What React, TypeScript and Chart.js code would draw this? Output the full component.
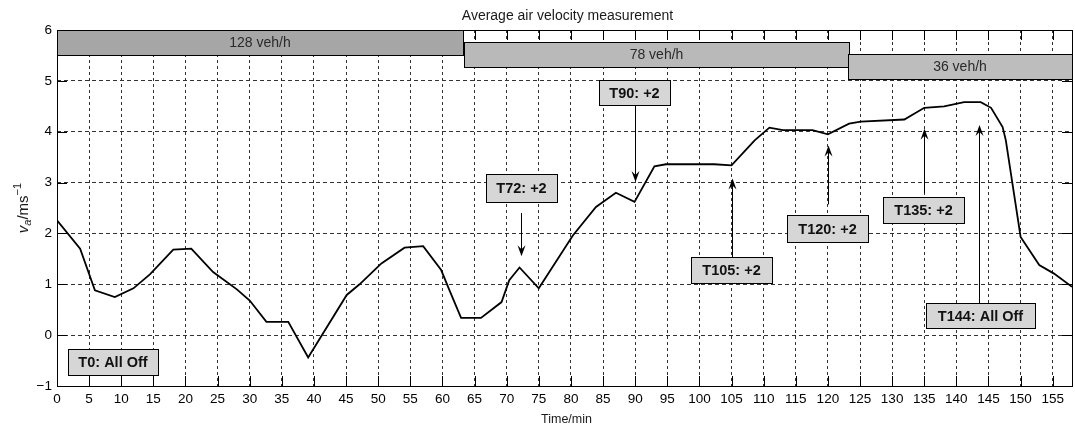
import React, { useEffect, useRef } from "react";
import { Chart, registerables } from "chart.js";

Chart.register(...registerables);

// ---- data ----
const timeMin = [
  0, 3.6, 5.9, 9.0, 11.9, 14.5, 18.1, 20.9, 24.3, 28.0, 30.0, 32.6, 36.0, 39.1,
  45.1, 47.1, 50.5, 54.1, 57.0, 59.8, 61.1, 62.9, 66.0, 69.2, 70.4, 72.0, 75.0,
  80.3, 83.9, 87.0, 89.9, 93.0, 94.8, 102.3, 105.0, 108.6, 110.9, 113.0, 117.6,
  120.0, 123.3, 125.1, 131.9, 135.0, 138.1, 141.2, 143.8, 145.4, 147.2, 147.7,
  150.0, 152.9, 155.2, 158.0,
];
const velocity = [
  2.26, 1.7, 0.88, 0.75, 0.92, 1.2, 1.68, 1.7, 1.24, 0.9, 0.68, 0.26, 0.26, -0.44,
  0.79, 1.0, 1.41, 1.72, 1.75, 1.28, 0.88, 0.34, 0.34, 0.65, 1.08, 1.33, 0.92,
  1.96, 2.52, 2.8, 2.62, 3.32, 3.36, 3.36, 3.34, 3.83, 4.08, 4.03, 4.03,
  3.95, 4.16, 4.2, 4.24, 4.47, 4.5, 4.58, 4.58, 4.47, 4.09, 3.83,
  1.93, 1.38, 1.21, 0.95,
];

const xMin = 0;
const xMax = 158;
const xStep = 5;
const xTickValues = [0, 5, 10, 15, 20, 25, 30, 35, 40, 45, 50, 55, 60, 65, 70, 75, 80, 85, 90, 95, 100, 105, 110, 115, 120, 125, 130, 135, 140, 145, 150, 155];
const yMin = -1;
const yMax = 6;
const yStep = 1;

const chartTitle = "Average air velocity measurement";
const xTitle = "Time/min";

// traffic flow header bars
const flowLabels = ["128 veh/h", "78 veh/h", "36 veh/h"];
const flowStart = [0, 63.3, 123.2];
const flowEnd = [63.2, 123.3, 158];
const flowTop = [6, 5.76, 5.535];
const flowBottom = [5.515, 5.28, 5.044];
const flowFill = ["#a6a6a6", "#b9b9b9", "#bdbdbd"];

// annotation boxes
const noteLabels = ["T0: All Off", "T72: +2", "T90: +2", "T105: +2", "T120: +2", "T135: +2", "T144: All Off"];
const noteLeft = [1.65, 66.8, 84.3, 98.7, 113.6, 128.6, 135.3];
const noteRight = [15.7, 77.9, 95.4, 111.3, 126.3, 141.2, 152.2];
const noteTop = [-0.28, 3.16, 5.02, 1.53, 2.36, 2.71, 0.63];
const noteBottom = [-0.79, 2.62, 4.52, 1.02, 1.83, 2.21, 0.14];
const arrowX = [null, 72.2, 89.9, 105, 120, 135, 143.6];
const arrowFrom = [null, 2.4, 4.52, 1.53, 2.57, 2.79, 0.63];
const arrowTo = [null, 1.55, 3.01, 3.08, 3.73, 4.06, 4.13];

const FONT = "'Liberation Sans', Arial, Helvetica, sans-serif";

const crisp = (v: number) => Math.round(v) + 0.5;

const overlay = {
  id: "overlay",
  beforeDatasetsDraw(chart: any) {
    const { ctx, chartArea: a, scales } = chart;
    const x = scales.x;
    const y = scales.y;
    ctx.save();
    // inward tick marks on all four sides
    ctx.strokeStyle = "#000";
    ctx.lineWidth = 1;
    ctx.setLineDash([]);
    const tl = 10;
    ctx.beginPath();
    for (const v of xTickValues) {
      const px = crisp(x.getPixelForValue(v));
      ctx.moveTo(px, a.bottom);
      ctx.lineTo(px, a.bottom - tl);
      ctx.moveTo(px, a.top);
      ctx.lineTo(px, a.top + tl);
    }
    for (let v = yMin; v <= yMax; v += yStep) {
      const py = crisp(y.getPixelForValue(v));
      ctx.moveTo(a.left, py);
      ctx.lineTo(a.left + tl, py);
      ctx.moveTo(a.right, py);
      ctx.lineTo(a.right - tl, py);
    }
    ctx.stroke();

    // header bars
    for (let i = 0; i < flowLabels.length; i++) {
      const l = Math.round(x.getPixelForValue(flowStart[i]));
      const r = Math.round(x.getPixelForValue(flowEnd[i]));
      const t = Math.round(y.getPixelForValue(flowTop[i]));
      const b = Math.round(y.getPixelForValue(flowBottom[i]));
      ctx.fillStyle = flowFill[i];
      ctx.fillRect(l, t, r - l, b - t);
      ctx.strokeStyle = "#000";
      ctx.lineWidth = 1;
      ctx.strokeRect(l + 0.5, t + 0.5, r - l, b - t);
      ctx.fillStyle = "#2a2a2a";
      ctx.font = `14px ${FONT}`;
      ctx.textAlign = "center";
      ctx.textBaseline = "middle";
      ctx.fillText(flowLabels[i], (l + r) / 2, (t + b) / 2 + 1);
    }
    ctx.restore();
  },
  afterDatasetsDraw(chart: any) {
    const { ctx, chartArea: a, scales } = chart;
    const x = scales.x;
    const y = scales.y;
    ctx.save();
    ctx.setLineDash([]);
    // arrows
    for (let i = 0; i < noteLabels.length; i++) {
      const ax = arrowX[i];
      if (ax === null) continue;
      const px = crisp(x.getPixelForValue(ax));
      const y0 = y.getPixelForValue(arrowFrom[i] as number);
      const y1 = y.getPixelForValue(arrowTo[i] as number);
      const dir = y1 > y0 ? 1 : -1;
      ctx.strokeStyle = "#000";
      ctx.lineWidth = 1;
      ctx.beginPath();
      ctx.moveTo(px, y0);
      ctx.lineTo(px, y1 - dir * 6);
      ctx.stroke();
      ctx.fillStyle = "#000";
      ctx.beginPath();
      ctx.moveTo(px, y1);
      ctx.lineTo(px - 4, y1 - dir * 11);
      ctx.lineTo(px, y1 - dir * 7);
      ctx.lineTo(px + 4, y1 - dir * 11);
      ctx.closePath();
      ctx.fill();
    }
    // boxes
    for (let i = 0; i < noteLabels.length; i++) {
      const l = Math.round(x.getPixelForValue(noteLeft[i]));
      const r = Math.round(x.getPixelForValue(noteRight[i]));
      const t = Math.round(y.getPixelForValue(noteTop[i]));
      const b = Math.round(y.getPixelForValue(noteBottom[i]));
      ctx.fillStyle = "#d6d6d6";
      ctx.fillRect(l, t, r - l, b - t);
      ctx.strokeStyle = "#000";
      ctx.lineWidth = 1;
      ctx.strokeRect(l + 0.5, t + 0.5, r - l, b - t);
      ctx.fillStyle = "#111";
      ctx.font = `bold 14.5px ${FONT}`;
      ctx.textAlign = "center";
      ctx.textBaseline = "middle";
      ctx.fillText(noteLabels[i], (l + r) / 2, (t + b) / 2 + 1);
    }
    // axes box
    ctx.strokeStyle = "#000";
    ctx.lineWidth = 1;
    ctx.strokeRect(crisp(a.left), crisp(a.top), Math.round(a.right - a.left), Math.round(a.bottom - a.top));
    ctx.restore();
  },
  afterDraw(chart: any) {
    const { ctx, chartArea: a } = chart;
    ctx.save();
    ctx.fillStyle = "#1a1a1a";
    ctx.textAlign = "center";
    ctx.textBaseline = "alphabetic";
    ctx.font = `14px ${FONT}`;
    ctx.fillText(chartTitle, (a.left + a.right) / 2 + 3, 19.5);
    ctx.font = `12.5px ${FONT}`;
    ctx.fillText(xTitle, (a.left + a.right) / 2 + 2, 422.5);

    // y axis label: v_a / ms^-1
    const cy = (a.top + a.bottom) / 2;
    ctx.translate(28, cy);
    ctx.rotate(-Math.PI / 2);
    ctx.textAlign = "left";
    const parts: [string, string, number][] = [
      ["v", `italic 15px ${FONT}`, 0],
      ["a", `italic 11px ${FONT}`, 3],
      ["/ms", `15px ${FONT}`, 0],
      ["\u22121", `11px ${FONT}`, -7],
    ];
    let total = 0;
    for (const [s, f] of parts) {
      ctx.font = f;
      total += ctx.measureText(s).width;
    }
    let cx = -total / 2;
    for (const [s, f, dy] of parts) {
      ctx.font = f;
      ctx.fillText(s, cx, dy);
      cx += ctx.measureText(s).width;
    }
    ctx.restore();
  },
};

export default function App() {
  const ref = useRef<HTMLCanvasElement | null>(null);
  useEffect(() => {
    if (!ref.current) return;
    const chart = new Chart(ref.current, {
      type: "line",
      data: {
        datasets: [
          {
            data: timeMin.map((t, i) => ({ x: t, y: velocity[i] })),
            borderColor: "#000",
            borderWidth: 1.8,
            pointRadius: 0,
            tension: 0,
            fill: false,
          },
        ],
      },
      options: {
        animation: false,
        responsive: false,
        maintainAspectRatio: false,
        layout: { padding: { top: 30, right: 3, left: 0, bottom: 0 } },
        plugins: {
          legend: { display: false },
          title: { display: false },
          tooltip: { enabled: false },
        },
        scales: {
          x: {
            type: "linear",
            min: xMin,
            max: xMax,
            afterBuildTicks: (axis: any) => {
              axis.ticks = xTickValues.map((v) => ({ value: v }));
            },
            afterFit: (scale: any) => {
              scale.height = 42;
            },
            ticks: {
              stepSize: xStep,
              autoSkip: false,
              maxRotation: 0,
              padding: 5,
              color: "#000",
              font: { family: FONT, size: 13.5 },
            },
            grid: { color: "#333", lineWidth: 1, drawTicks: false },
            border: { display: false, dash: [3, 3] },
          },
          y: {
            min: yMin,
            max: yMax,
            afterFit: (scale: any) => {
              scale.width = 57;
            },
            ticks: {
              stepSize: yStep,
              padding: 5,
              color: "#000",
              font: { family: FONT, size: 13.5 },
              callback: (v: any) => (Number(v) < 0 ? "\u2212" + Math.abs(Number(v)) : String(v)),
            },
            grid: { color: "#333", lineWidth: 1, drawTicks: false },
            border: { display: false, dash: [4, 3] },
          },
        },
      },
      plugins: [overlay],
    } as any);
    return () => chart.destroy();
  }, []);
  return (
    <div style={{ position: "fixed", left: 0, top: 0, width: 1075, height: 428, background: "#fff" }}>
      <canvas ref={ref} width={1075} height={428} style={{ display: "block" }} />
    </div>
  );
}
